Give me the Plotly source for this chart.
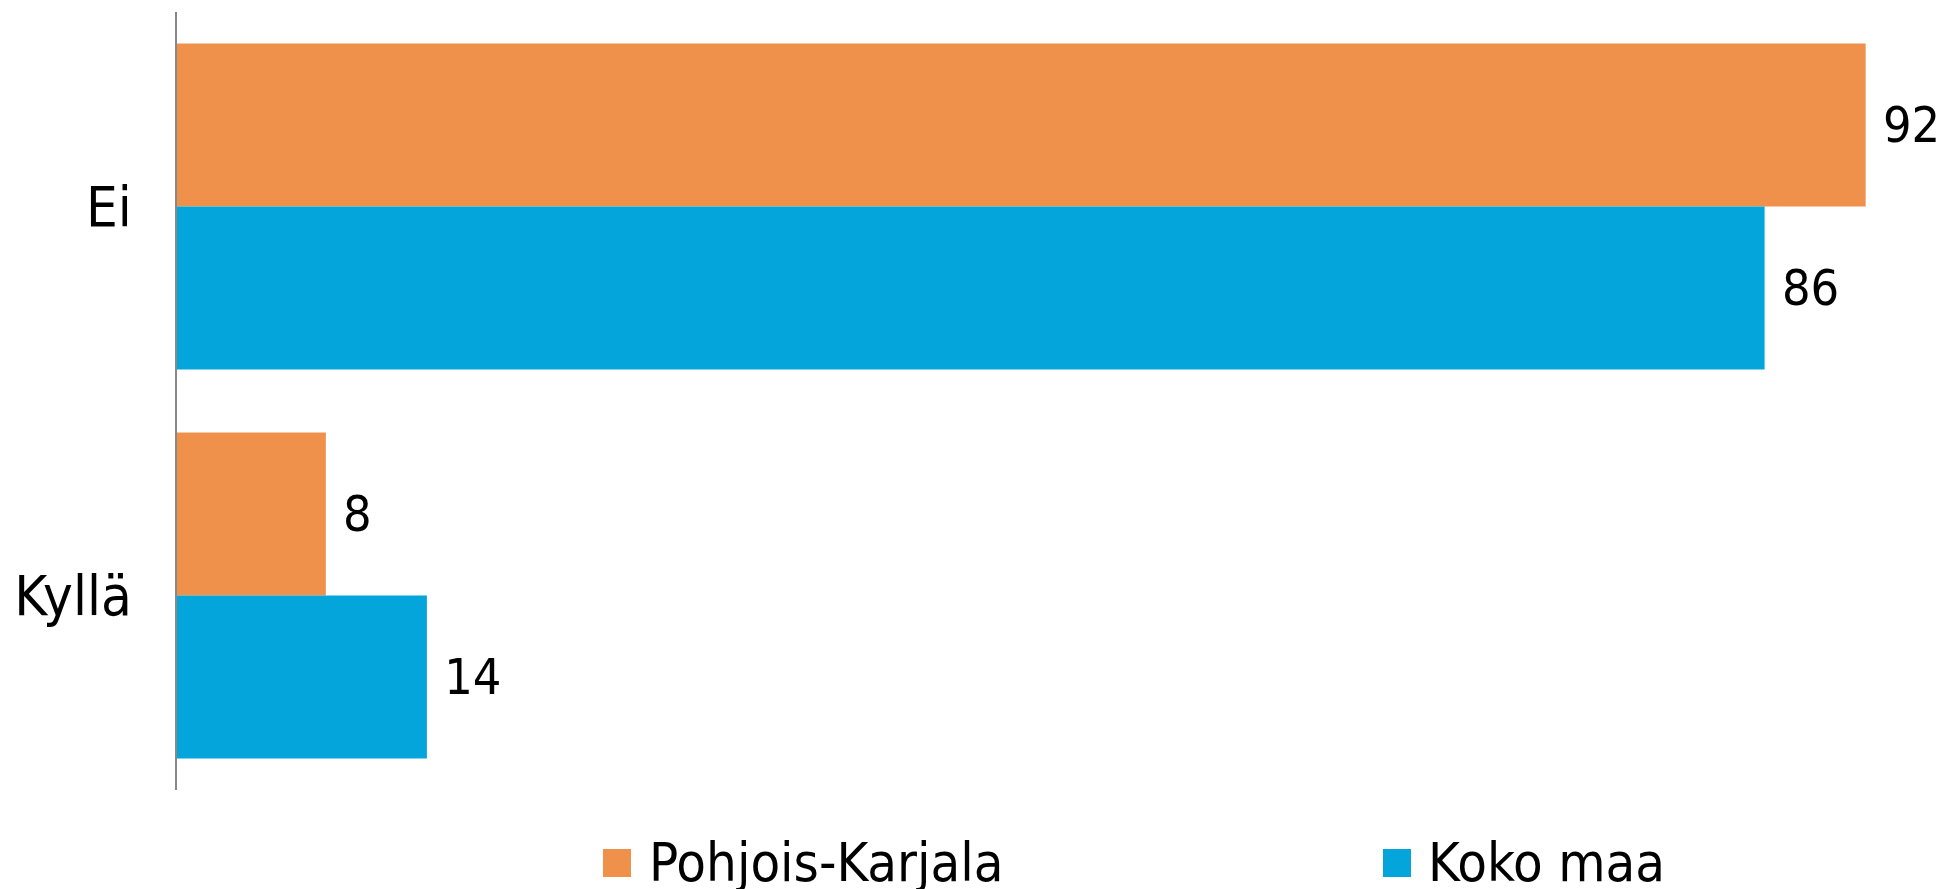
import plotly.graph_objects as go

categories = ["Ei", "Kyllä"]
series_names = ["Pohjois-Karjala", "Koko maa"]
pohjois_karjala = [91.9, 8.1]
koko_maa = [86.4, 13.6]
colors = ["#F0914B", "#03A5DB"]

FONT = "DejaVu Sans Condensed, Liberation Sans Narrow, Liberation Sans, sans-serif"
NBSP = "\u00a0"

fig = go.Figure()
for name, vals, col in zip(series_names, [pohjois_karjala, koko_maa], colors):
    fig.add_trace(go.Bar(
        y=categories, x=vals, name=name, orientation="h",
        marker=dict(color=col, line=dict(width=0)),
        text=[NBSP + f"{v:.0f}" for v in vals],
        textposition="outside", cliponaxis=False, constraintext="none",
        textfont=dict(family=FONT, size=50, color="#000000"),
        showlegend=False,
    ))

fig.update_layout(
    width=1941, height=889,
    margin=dict(l=177, r=0, t=12, b=99, autoexpand=False),
    paper_bgcolor="white", plot_bgcolor="white",
    barmode="group", bargap=0.162, bargroupgap=0,
    font=dict(family=FONT, size=56, color="#000000"),
    xaxis=dict(range=[0, 96], visible=False, showgrid=False, zeroline=False,
               automargin=False),
    yaxis=dict(range=[1.5, -0.5], showline=True, linecolor="#888888", linewidth=2,
               ticks="", ticklabelstandoff=32, showgrid=False, zeroline=False,
               automargin=False,
               tickfont=dict(family=FONT, size=56, color="#000000")),
)

# manual legend (large square swatches)
W = 1764.0
H = 778.0
def px(x):
    return (x - 177) / W
def py(y):
    return (790 - y) / H

legend_items = [(603, 647), (1383, 1426)]
for (sx, tx), name, col in zip(legend_items, series_names, colors):
    fig.add_shape(type="rect", xref="paper", yref="paper",
                  x0=px(sx), x1=px(sx + 28), y0=py(877), y1=py(849),
                  fillcolor=col, line=dict(width=0))
    fig.add_annotation(xref="paper", yref="paper", x=px(tx), y=py(862),
                       xanchor="left", yanchor="middle", text=name, showarrow=False,
                       font=dict(family=FONT, size=54, color="#000000"))

fig.write_html("out.html", config={"displayModeBar": False},
               post_script="document.body.style.margin='0';document.body.style.overflow='hidden';")
